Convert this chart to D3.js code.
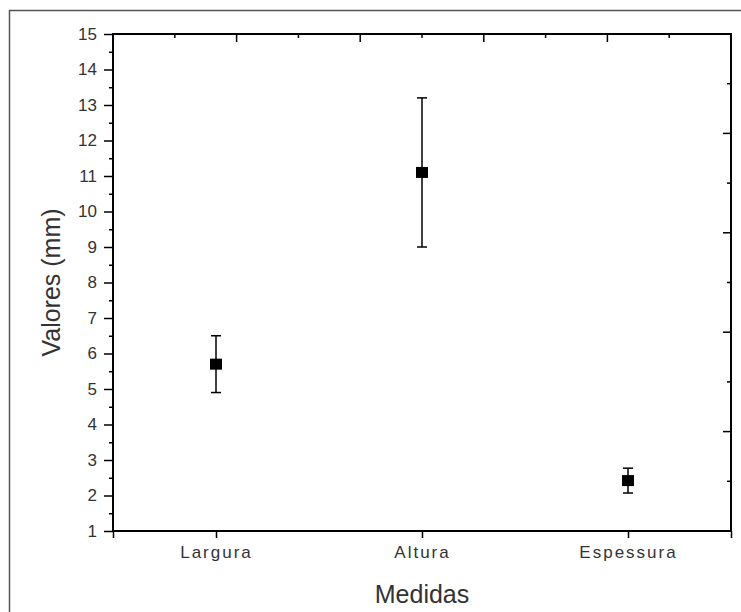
<!DOCTYPE html>
<html>
<head>
<meta charset="utf-8">
<script src="https://cdn.jsdelivr.net/npm/d3@7"></script>
<style>
  body { margin: 0; background: #fff; }
  svg { display: block; font-family: "Liberation Sans", Arial, sans-serif; }
</style>
</head>
<body>
<svg id="chart" width="741" height="612"></svg>
<script>
const categories = ["Largura", "Altura", "Espessura"];
const means = [5.7, 11.1, 2.42];
const errors = [0.8, 2.1, 0.35];
const yTicks = [1, 2, 3, 4, 5, 6, 7, 8, 9, 10, 11, 12, 13, 14, 15];

const width = 741;
const height = 612;
const margin = { top: 34, right: 10, bottom: 81, left: 113 };
const innerW = width - margin.left - margin.right;
const innerH = height - margin.top - margin.bottom;

const svg = d3.select("#chart");

// outer frame
svg.append("rect")
    .attr("x", 9.5).attr("y", 10.5)
    .attr("width", 760).attr("height", 640)
    .attr("fill", "none")
    .attr("stroke", "#555")
    .attr("stroke-width", 1.5);

const g = svg.append("g")
    .attr("transform", `translate(${margin.left},${margin.top})`);

const x = d3.scaleLinear().domain([0.5, 3.5]).range([0, innerW]);
const y = d3.scaleLinear().domain([1, 15]).range([innerH, 0]);
const frac = d3.scaleLinear().domain([0, 1]).range([0, innerW]);
const fracY = d3.scaleLinear().domain([0, 1]).range([innerH, 0]);

// left axis: major + minor ticks
const minorY = d3.range(1.5, 15, 1);
g.append("g")
    .call(d3.axisLeft(y).tickValues(minorY).tickSize(4).tickFormat(""))
    .call(a => a.select(".domain").remove())
    .selectAll("line").attr("stroke", "#000").attr("stroke-width", 1.5);

const yAxis = g.append("g")
    .call(d3.axisLeft(y).tickValues(yTicks).tickSize(9).tickPadding(7));
yAxis.select(".domain").remove();
yAxis.selectAll("line").attr("stroke", "#000").attr("stroke-width", 1.5);
yAxis.selectAll("text")
    .attr("font-size", 17)
    .attr("fill", "#333")
    .attr("font-family", "Liberation Sans, Arial, sans-serif");

// bottom axis
const xAxis = g.append("g")
    .attr("transform", `translate(0,${innerH})`)
    .call(d3.axisBottom(x).tickValues([0.5, 1, 2, 3, 3.5]).tickSize(7).tickPadding(8)
        .tickFormat(d => Number.isInteger(d) ? categories[d - 1] : ""));
xAxis.select(".domain").remove();
xAxis.selectAll("line").attr("stroke", "#000").attr("stroke-width", 1.5);
xAxis.selectAll("text")
    .attr("font-size", 17)
    .attr("fill", "#333")
    .attr("letter-spacing", 2)
    .attr("font-family", "Liberation Sans, Arial, sans-serif");

// top axis: inward ticks
const topTicks = d3.range(1, 10).map(i => i / 10);
g.selectAll(".topTick")
    .data(topTicks)
    .join("line")
    .attr("x1", d => frac(d)).attr("x2", d => frac(d))
    .attr("y1", 0)
    .attr("y2", (d, i) => (i % 2 === 1 ? 8 : 4))
    .attr("stroke", "#000").attr("stroke-width", 1.5);

// right axis: inward ticks
g.selectAll(".rightTick")
    .data(topTicks)
    .join("line")
    .attr("x1", innerW)
    .attr("x2", (d, i) => innerW - (i % 2 === 1 ? 8 : 4))
    .attr("y1", d => fracY(d)).attr("y2", d => fracY(d))
    .attr("stroke", "#000").attr("stroke-width", 1.5);

// frame of plot
g.append("rect")
    .attr("width", innerW).attr("height", innerH)
    .attr("fill", "none")
    .attr("stroke", "#000")
    .attr("stroke-width", 2);

const data = categories.map((c, i) => ({ c, i: i + 1, m: means[i], e: errors[i] }));

// error bars
const eb = g.selectAll(".eb").data(data).join("g");
eb.append("line")
    .attr("x1", d => x(d.i)).attr("x2", d => x(d.i))
    .attr("y1", d => y(d.m + d.e)).attr("y2", d => y(d.m - d.e))
    .attr("stroke", "#000").attr("stroke-width", 1.5);
eb.selectAll(".cap")
    .data(d => [d.m + d.e, d.m - d.e].map(v => ({ i: d.i, v })))
    .join("line")
    .attr("x1", d => x(d.i) - 5).attr("x2", d => x(d.i) + 5)
    .attr("y1", d => y(d.v)).attr("y2", d => y(d.v))
    .attr("stroke", "#000").attr("stroke-width", 1.5);

// markers
g.selectAll(".pt").data(data).join("rect")
    .attr("x", d => x(d.i) - 6)
    .attr("y", d => y(d.m) - 5.5)
    .attr("width", 12).attr("height", 11)
    .attr("fill", "#000");

// axis titles
svg.append("text")
    .attr("transform", `translate(60,${margin.top + innerH / 2}) rotate(-90)`)
    .attr("text-anchor", "middle")
    .attr("font-size", 25)
    .attr("fill", "#333")
    .text("Valores (mm)");

svg.append("text")
    .attr("x", margin.left + innerW / 2)
    .attr("y", 603)
    .attr("text-anchor", "middle")
    .attr("font-size", 25)
    .attr("fill", "#333")
    .text("Medidas");
</script>
</body>
</html>
